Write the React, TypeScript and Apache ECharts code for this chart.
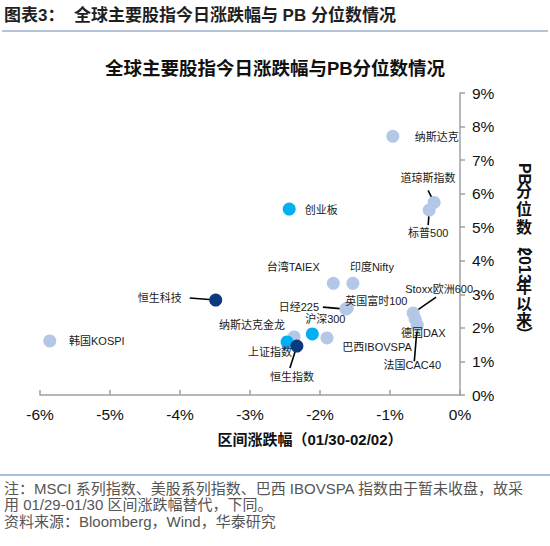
import { useEffect, useRef } from 'react'
import * as echarts from 'echarts'

const FONT = '"Liberation Sans", "Noto Sans CJK SC", sans-serif'

// 指数名称 / 区间涨跌幅(%) / PB分位数(%) / 分组
const names = [
  '纳斯达克', '道琼斯指数', '标普500', '创业板', '台湾TAIEX', '印度Nifty',
  '英国富时100', '日经225', '恒生科技', '纳斯达克金龙', '沪深300', '上证指数',
  '恒生指数', '巴西IBOVSPA', 'Stoxx欧洲600', '德国DAX', '法国CAC40', '韩国KOSPI',
]
const changes = [
  -0.96, -0.37, -0.44, -2.44, -1.81, -1.53,
  -1.61, -1.63, -3.49, -2.37, -2.11, -2.47,
  -2.33, -1.9, -0.67, -0.64, -0.61, -5.86,
]
const pbPcts = [
  7.71, 5.74, 5.51, 5.54, 3.33, 3.33,
  2.59, 2.56, 2.83, 1.73, 1.82, 1.58,
  1.46, 1.7, 2.44, 2.26, 2.08, 1.61,
]
const groups = [
  'global', 'global', 'global', 'a', 'global', 'global',
  'global', 'global', 'hk', 'global', 'a', 'a',
  'hk', 'global', 'global', 'global', 'global', 'global',
]
const xRange = [-6, 0]
const yRange = [0, 9]

const groupColors: Record<string, string> = {
  global: '#B4C7E7',
  a: '#00B0F0',
  hk: '#0B3B7E',
}

// 标签相对点的偏移（像素）
const labelOffsets: Record<string, number[]> = {
  纳斯达克: [44, 1],
  道琼斯指数: [-6, -24],
  标普500: [-1, 23],
  创业板: [32, 1],
  台湾TAIEX: [-40, -16],
  印度Nifty: [19, -16],
  英国富时100: [29, -7],
  日经225: [-47, -2],
  恒生科技: [-56, -2],
  纳斯达克金龙: [-42, -12],
  沪深300: [13, -15],
  上证指数: [-17, 10],
  恒生指数: [-5, 31],
  巴西IBOVSPA: [50, 9],
  Stoxx欧洲600: [26, -24],
  德国DAX: [8, 14],
  法国CAC40: [-5, 40],
  韩国KOSPI: [47, 0],
}
// 引线：从点指向标签的终点偏移（像素）
const leaderEnds: Record<string, number[]> = {
  道琼斯指数: [-6, -12],
  标普500: [-1, 15],
  日经225: [-23, -2],
  恒生科技: [-26, -2],
  恒生指数: [-7, 22],
  Stoxx欧洲600: [23, -16],
  法国CAC40: [-3, 36],
}

const footnotes = [
  '注：MSCI 系列指数、美股系列指数、巴西 IBOVSPA 指数由于暂未收盘，故采',
  '用 01/29-01/30 区间涨跌幅替代，下同。',
  '资料来源：Bloomberg，Wind，华泰研究',
]

export default function App() {
  const chartRef = useRef<HTMLDivElement>(null)

  useEffect(() => {
    if (!chartRef.current) return
    document.body.style.margin = '0'
    const chart = echarts.init(chartRef.current, undefined, { renderer: 'svg' })

    const makeSeries = (group: string) => ({
      type: 'scatter',
      z: 3,
      symbolSize: 13,
      itemStyle: { color: groupColors[group], opacity: 1 },
      label: {
        show: true,
        position: 'inside',
        formatter: '{b}',
        color: '#1a1a1a',
        fontSize: 11,
        fontFamily: FONT,
      },
      data: names
        .map((name, i) => ({ name, i }))
        .filter((d) => groups[d.i] === group)
        .map(({ name, i }) => ({
          name,
          value: [changes[i], pbPcts[i]],
          label: { offset: labelOffsets[name] },
        })),
    })

    const leaderNames = Object.keys(leaderEnds)
    const leaderSeries = {
      type: 'custom',
      z: 2,
      silent: true,
      data: leaderNames.map((name) => {
        const i = names.indexOf(name)
        return [changes[i], pbPcts[i]]
      }),
      renderItem: (params: any, api: any) => {
        const p = api.coord([api.value(0), api.value(1)])
        const end = leaderEnds[leaderNames[params.dataIndex]]
        return {
          type: 'line',
          shape: { x1: p[0], y1: p[1], x2: p[0] + end[0], y2: p[1] + end[1] },
          style: { stroke: '#000', lineWidth: 1.6 },
        }
      },
    }

    // 纵轴标题：拉丁字符横躺，汉字直立
    const yNameParts: [string, number, boolean][] = [
      ['PB', 174, true],
      ['分', 191, false],
      ['位', 209, false],
      ['数', 227, false],
      ['（', 246, true],
      ['2013', 265, true],
      ['年', 287, false],
      ['以', 304, false],
      ['来', 320, false],
      ['）', 334, true],
    ]

    const option: any = {
      animation: false,
      backgroundColor: '#fff',
      title: {
        text: '全球主要股指今日涨跌幅与PB分位数情况',
        left: 'center',
        top: 54,
        textStyle: { fontSize: 18.5, fontWeight: 'bold', color: '#111', fontFamily: FONT },
      },
      grid: { left: 40, right: 90, top: 93, bottom: 151 },
      xAxis: {
        type: 'value',
        min: xRange[0],
        max: xRange[1],
        interval: 1,
        axisLine: { show: true, onZero: false, lineStyle: { color: '#a0a0a0', width: 1.5 } },
        axisTick: { show: true, inside: true, length: 5, lineStyle: { color: '#a0a0a0', width: 1.5 } },
        axisLabel: { formatter: '{value}%', color: '#111', fontSize: 15.5, fontFamily: FONT, margin: 12 },
        splitLine: { show: false },
      },
      yAxis: {
        type: 'value',
        position: 'right',
        min: yRange[0],
        max: yRange[1],
        interval: 1,
        axisLine: { show: true, onZero: false, lineStyle: { color: '#a0a0a0', width: 1.5 } },
        axisTick: { show: true, length: 5, lineStyle: { color: '#a0a0a0', width: 1.5 } },
        axisLabel: { formatter: '{value}%', color: '#111', fontSize: 15.5, fontFamily: FONT, margin: 12 },
        splitLine: { show: false },
      },
      graphic: [
        {
          type: 'text',
          left: 4,
          top: 7,
          style: {
            text: '图表3：  全球主要股指今日涨跌幅与 PB 分位数情况',
            fontSize: 17,
            fontWeight: 'bold',
            fill: '#1f1f1f',
            fontFamily: FONT,
          },
        },
        {
          type: 'line',
          shape: { x1: 2, y1: 31, x2: 548, y2: 31 },
          style: { stroke: '#9DB0CC', lineWidth: 1.5 },
        },
        {
          type: 'text',
          x: 310,
          y: 439,
          style: {
            text: '区间涨跌幅（01/30-02/02）',
            align: 'center',
            verticalAlign: 'middle',
            fontSize: 15,
            fontWeight: 'bold',
            fill: '#111',
            fontFamily: FONT,
          },
        },
        ...yNameParts.map(([t, y, rotated]) => ({
          type: 'text',
          x: 524,
          y,
          rotation: rotated ? -Math.PI / 2 : 0,
          style: {
            text: t,
            align: 'center',
            verticalAlign: 'middle',
            fontSize: 16,
            fontWeight: 'bold',
            fill: '#111',
            fontFamily: FONT,
          },
        })),
        {
          type: 'line',
          shape: { x1: 0, y1: 475, x2: 550, y2: 475 },
          style: { stroke: '#8EAADB', lineWidth: 1.5 },
        },
        ...footnotes.map((t, i) => ({
          type: 'text',
          x: 4,
          y: [488, 504, 521][i],
          style: {
            text: t,
            verticalAlign: 'middle',
            fontSize: 15,
            fill: '#555',
            fontFamily: FONT,
          },
        })),
      ],
      series: [leaderSeries, ...['global', 'a', 'hk'].map(makeSeries)],
    }

    chart.setOption(option)

    return () => {
      chart.dispose()
    }
  }, [])

  return (
    <div
      ref={chartRef}
      style={{ position: 'absolute', left: 0, top: 0, width: '550px', height: '546px' }}
    />
  )
}
